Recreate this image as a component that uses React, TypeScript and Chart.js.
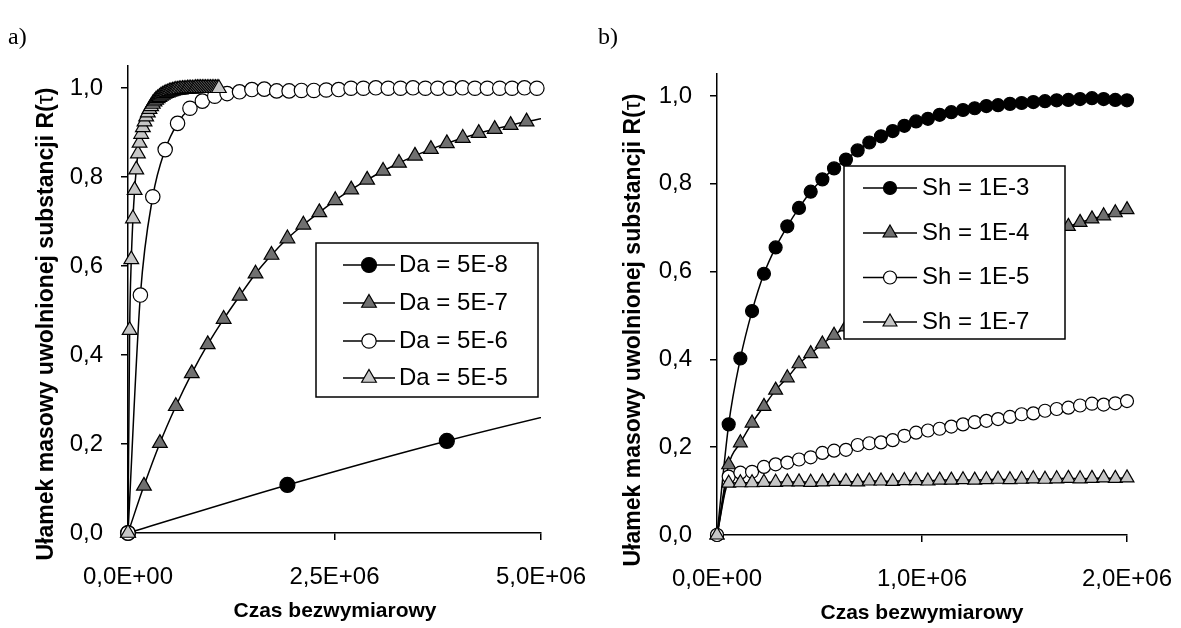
import React, { useEffect, useRef } from 'react';
import { Chart, registerables } from 'chart.js';

Chart.register(...registerables);
Chart.defaults.font.family = '"Liberation Sans", Arial, sans-serif';
Chart.defaults.color = '#000';

const M = 1e6;

// ---------- Panel a) ----------
const daLabels = ['Da = 5E-8', 'Da = 5E-7', 'Da = 5E-6', 'Da = 5E-5'];
// x values in units of 1E+06
const da8X = [0, 1.93, 3.86, 5.79];
const da8Y = [0, 0.108, 0.207, 0.295];
const da7X = [0, 0.193, 0.386, 0.579, 0.772, 0.965, 1.158, 1.351, 1.544, 1.737, 1.93, 2.123, 2.316, 2.509, 2.702, 2.895, 3.088, 3.281, 3.474, 3.667, 3.86, 4.053, 4.246, 4.439, 4.632, 4.825, 5.018];
const da7Y = [0, 0.106, 0.202, 0.285, 0.359, 0.424, 0.481, 0.533, 0.583, 0.625, 0.662, 0.693, 0.721, 0.748, 0.772, 0.794, 0.814, 0.832, 0.848, 0.863, 0.876, 0.888, 0.899, 0.908, 0.917, 0.925, 0.932];
const da6X = [0, 0.15, 0.3, 0.45, 0.6, 0.75, 0.9, 1.05, 1.2, 1.35, 1.5, 1.65, 1.8, 1.95, 2.1, 2.25, 2.4, 2.55, 2.7, 2.85, 3.0, 3.15, 3.3, 3.45, 3.6, 3.75, 3.9, 4.05, 4.2, 4.35, 4.5, 4.65, 4.8, 4.95];
const da6Y = [0, 0.535, 0.756, 0.862, 0.921, 0.955, 0.971, 0.982, 0.988, 0.992, 0.997, 0.998, 0.994, 0.994, 0.995, 0.995, 0.996, 0.997, 1.0, 1.0, 1.001, 1.0, 1.0, 1.001, 1.0, 1.0, 1.0, 1.001, 1.0, 1.0, 1.0, 1.0, 1.001, 1.0];
const da5X = [0, 0.02, 0.04, 0.06, 0.08, 0.1, 0.12, 0.14, 0.16, 0.18, 0.2, 0.22, 0.24, 0.26, 0.28, 0.3, 0.32, 0.34, 0.36, 0.38, 0.4, 0.42, 0.44, 0.46, 0.48, 0.5, 0.52, 0.54, 0.56, 0.58, 0.6, 0.62, 0.64, 0.66, 0.68, 0.7, 0.72, 0.74, 0.76, 0.78, 0.8, 0.82, 0.84, 0.86, 0.88, 0.9, 0.92, 0.94, 0.96, 0.98, 1.0, 1.02, 1.04, 1.06, 1.08, 1.1];
const da5Y = [0, 0.456, 0.615, 0.707, 0.771, 0.817, 0.853, 0.877, 0.897, 0.912, 0.925, 0.936, 0.945, 0.953, 0.959, 0.965, 0.97, 0.974, 0.977, 0.98, 0.983, 0.985, 0.987, 0.989, 0.99, 0.992, 0.993, 0.994, 0.995, 0.996, 0.996, 0.997, 0.997, 0.998, 0.998, 0.998, 0.999, 0.999, 0.999, 0.999, 0.999, 1, 1, 1, 1, 1, 1, 1, 1, 1, 1, 1, 1, 1, 1, 1];
const aXTicks = [0, 2.5, 5.0];
const aXTickLabels = ['0,0E+00', '2,5E+06', '5,0E+06'];

// ---------- Panel b) ----------
const shLabels = ['Sh = 1E-3', 'Sh = 1E-4', 'Sh = 1E-5', 'Sh = 1E-7'];
const shX = [0, 0.057, 0.114, 0.171, 0.229, 0.286, 0.343, 0.4, 0.457, 0.514, 0.571, 0.629, 0.686, 0.743, 0.8, 0.857, 0.914, 0.971, 1.029, 1.086, 1.143, 1.2, 1.257, 1.314, 1.371, 1.429, 1.486, 1.543, 1.6, 1.657, 1.714, 1.771, 1.829, 1.886, 1.943, 2.0];
const sh3Y = [0, 0.252, 0.402, 0.51, 0.595, 0.655, 0.703, 0.745, 0.782, 0.81, 0.835, 0.855, 0.876, 0.894, 0.908, 0.92, 0.932, 0.942, 0.948, 0.957, 0.963, 0.968, 0.972, 0.977, 0.979, 0.982, 0.984, 0.986, 0.988, 0.99, 0.991, 0.993, 0.995, 0.993, 0.991, 0.99];
const sh4Y = [0, 0.16, 0.21, 0.255, 0.293, 0.33, 0.358, 0.39, 0.413, 0.435, 0.455, 0.474, 0.49, 0.507, 0.522, 0.537, 0.551, 0.565, 0.578, 0.591, 0.603, 0.615, 0.626, 0.637, 0.648, 0.658, 0.668, 0.677, 0.686, 0.695, 0.703, 0.712, 0.72, 0.727, 0.734, 0.741];
const sh5Y = [0, 0.133, 0.142, 0.144, 0.155, 0.161, 0.165, 0.172, 0.177, 0.187, 0.192, 0.194, 0.205, 0.209, 0.211, 0.216, 0.226, 0.233, 0.238, 0.242, 0.247, 0.252, 0.257, 0.26, 0.264, 0.269, 0.275, 0.277, 0.283, 0.287, 0.29, 0.295, 0.299, 0.297, 0.3, 0.305];
const sh7Y = [0, 0.118, 0.119, 0.119, 0.12, 0.12, 0.121, 0.121, 0.12, 0.121, 0.122, 0.122, 0.121, 0.123, 0.123, 0.122, 0.124, 0.124, 0.123, 0.125, 0.125, 0.126, 0.125, 0.126, 0.127, 0.126, 0.127, 0.128, 0.127, 0.128, 0.129, 0.128, 0.129, 0.13, 0.129, 0.13];
const bXTicks = [0, 1, 2];
const bXTickLabels = ['0,0E+00', '1,0E+06', '2,0E+06'];

// ---------- shared ----------
const yTicks = [0, 0.2, 0.4, 0.6, 0.8, 1.0];
const yTickLabels = ['0,0', '0,2', '0,4', '0,6', '0,8', '1,0'];
const yTitle = 'Ułamek masowy uwolnionej substancji R(τ)';
const xTitle = 'Czas bezwymiarowy';

type Series = { label: string; xs: number[]; ys: number[]; style: 'circle' | 'triangle'; fill: string; r: number; clipRight: number };
type PanelCfg = {
  left: number; w: number; padTop: number; padRight: number; yW: number; xH: number;
  xMax: number; xTicks: number[]; xTickLabels: string[]; series: Series[];
  legend: { x: number; y: number; w: number; h: number; rows: number[]; l0: number; l1: number; tx: number };
  xTitlePos: [number, number]; yTitlePos: [number, number];
};

const FONT = '"Liberation Sans", Arial, sans-serif';
const Y_TITLE_SIZE = 23;
const X_TITLE_SIZE = 21;

function drawMarker(ctx: CanvasRenderingContext2D, style: string, x: number, y: number, r: number, fill: string) {
  ctx.beginPath();
  if (style === 'circle') {
    ctx.arc(x, y, r, 0, Math.PI * 2);
  } else {
    for (let k = 0; k < 3; k++) {
      const a = (k * 2 * Math.PI) / 3;
      const px = x + Math.sin(a) * r;
      const py = y - Math.cos(a) * r;
      if (k === 0) ctx.moveTo(px, py);
      else ctx.lineTo(px, py);
    }
    ctx.closePath();
  }
  ctx.fillStyle = fill;
  ctx.fill();
  ctx.lineWidth = 1.2;
  ctx.strokeStyle = '#000';
  ctx.stroke();
}

function drawDecor(ctx: CanvasRenderingContext2D, cfg: PanelCfg) {
  const lg = cfg.legend;
  ctx.save();
  ctx.fillStyle = '#fff';
  ctx.fillRect(lg.x, lg.y, lg.w, lg.h);
  ctx.strokeStyle = '#000';
  ctx.lineWidth = 1.5;
  ctx.strokeRect(lg.x, lg.y, lg.w, lg.h);
  cfg.series.forEach((s, i) => {
    const y = lg.rows[i];
    ctx.beginPath();
    ctx.moveTo(lg.l0, y);
    ctx.lineTo(lg.l1, y);
    ctx.strokeStyle = '#000';
    ctx.lineWidth = 1.5;
    ctx.stroke();
    drawMarker(ctx, s.style, (lg.l0 + lg.l1) / 2, y, s.r, s.fill);
    ctx.fillStyle = '#000';
    ctx.font = `24px ${FONT}`;
    ctx.textAlign = 'left';
    ctx.textBaseline = 'middle';
    ctx.fillText(s.label, lg.tx, y);
  });
  // x title
  ctx.fillStyle = '#000';
  ctx.font = `bold ${X_TITLE_SIZE}px ${FONT}`;
  ctx.textAlign = 'center';
  ctx.textBaseline = 'middle';
  ctx.fillText(xTitle, cfg.xTitlePos[0], cfg.xTitlePos[1]);
  // y title (tau not bold)
  const idx = yTitle.indexOf('τ');
  const parts = [
    { t: yTitle.slice(0, idx), f: `bold ${Y_TITLE_SIZE}px ${FONT}` },
    { t: 'τ', f: `${Y_TITLE_SIZE}px ${FONT}` },
    { t: yTitle.slice(idx + 1), f: `bold ${Y_TITLE_SIZE}px ${FONT}` },
  ];
  let total = 0;
  const widths = parts.map((p) => {
    ctx.font = p.f;
    const w = ctx.measureText(p.t).width;
    total += w;
    return w;
  });
  ctx.translate(cfg.yTitlePos[0], cfg.yTitlePos[1]);
  ctx.rotate(-Math.PI / 2);
  ctx.textAlign = 'left';
  let cx = -total / 2;
  parts.forEach((p, i) => {
    ctx.font = p.f;
    ctx.fillText(p.t, cx, 0);
    cx += widths[i];
  });
  ctx.restore();
}

function buildConfig(cfg: PanelCfg): any {
  const n = cfg.series.length;
  const datasets = cfg.series.map((s, i) => ({
    label: s.label,
    data: s.xs.map((x, k) => ({ x: x * M, y: s.ys[k] })),
    borderColor: '#000',
    borderWidth: 1.5,
    cubicInterpolationMode: 'monotone',
    fill: false,
    pointStyle: s.style,
    pointBackgroundColor: s.fill,
    pointBorderColor: '#000',
    pointBorderWidth: 1.2,
    pointRadius: (c: any) => (c.raw && c.raw.x > cfg.xMax * M + 1 ? 0 : s.r),
    order: n - 1 - i,
    clip: { left: 30, top: 30, bottom: 30, right: s.clipRight },
  }));
  const grid = { display: true, drawOnChartArea: false, drawTicks: true, tickLength: 7, color: '#000', lineWidth: 1.5 };
  const border = { display: true, color: '#000', width: 1.5 };
  const decor = { id: 'decor', afterDatasetsDraw(chart: any) { drawDecor(chart.ctx, cfg); } };
  return {
    type: 'line',
    data: { datasets },
    plugins: [decor],
    options: {
      responsive: false,
      animation: false,
      events: [],
      layout: { autoPadding: false, padding: { left: 0, top: cfg.padTop, right: cfg.padRight, bottom: 0 } },
      plugins: { legend: { display: false }, tooltip: { enabled: false } },
      scales: {
        x: {
          type: 'linear',
          min: 0,
          max: cfg.xMax * M,
          afterBuildTicks: (s: any) => { s.ticks = cfg.xTicks.map((v) => ({ value: v * M })); },
          afterFit: (s: any) => { s.height = cfg.xH; s.paddingLeft = 0; s.paddingRight = 0; },
          ticks: { callback: (_v: any, i: number) => cfg.xTickLabels[i], padding: 23, maxRotation: 0, autoSkip: false, color: '#000', font: { size: 24 } },
          grid, border,
        },
        y: {
          type: 'linear',
          min: 0,
          max: 1.05,
          afterBuildTicks: (s: any) => { s.ticks = yTicks.map((v) => ({ value: v })); },
          afterFit: (s: any) => { s.width = cfg.yW; s.paddingTop = 0; s.paddingBottom = 0; },
          ticks: { callback: (_v: any, i: number) => yTickLabels[i], padding: 18, autoSkip: false, color: '#000', font: { size: 24 } },
          grid, border,
        },
      },
    },
  };
}

const panelA: PanelCfg = {
  left: 0, w: 590, padTop: 66, padRight: 49, yW: 128, xH: 95,
  xMax: 5, xTicks: aXTicks, xTickLabels: aXTickLabels,
  series: [
    { label: daLabels[0], xs: da8X, ys: da8Y, style: 'circle', fill: '#000000', r: 7.5, clipRight: 0 },
    { label: daLabels[1], xs: da7X, ys: da7Y, style: 'triangle', fill: '#707070', r: 8.5, clipRight: 0 },
    { label: daLabels[2], xs: da6X, ys: da6Y, style: 'circle', fill: '#ffffff', r: 7.2, clipRight: 20 },
    { label: daLabels[3], xs: da5X, ys: da5Y, style: 'triangle', fill: '#c6c6c6', r: 8.5, clipRight: 20 },
  ],
  legend: { x: 316, y: 243, w: 222, h: 154, rows: [265, 303, 341, 378], l0: 343, l1: 395, tx: 399 },
  xTitlePos: [335, 611], yTitlePos: [47, 324],
};

const panelB: PanelCfg = {
  left: 590, w: 591, padTop: 74, padRight: 54, yW: 127, xH: 93,
  xMax: 2, xTicks: bXTicks, xTickLabels: bXTickLabels,
  series: [
    { label: shLabels[0], xs: shX, ys: sh3Y, style: 'circle', fill: '#000000', r: 6.5, clipRight: 20 },
    { label: shLabels[1], xs: shX, ys: sh4Y, style: 'triangle', fill: '#707070', r: 8, clipRight: 20 },
    { label: shLabels[2], xs: shX, ys: sh5Y, style: 'circle', fill: '#ffffff', r: 6.5, clipRight: 20 },
    { label: shLabels[3], xs: shX, ys: sh7Y, style: 'triangle', fill: '#c6c6c6', r: 8, clipRight: 20 },
  ],
  legend: { x: 254, y: 166, w: 221, h: 173, rows: [188, 233, 277.5, 322], l0: 273, l1: 327, tx: 332 },
  xTitlePos: [332, 613], yTitlePos: [44, 330],
};

function Panel({ cfg }: { cfg: PanelCfg }) {
  const ref = useRef<HTMLCanvasElement>(null);
  useEffect(() => {
    const chart = new Chart(ref.current as HTMLCanvasElement, buildConfig(cfg));
    return () => chart.destroy();
  }, []);
  return (
    <canvas
      ref={ref}
      width={cfg.w}
      height={628}
      style={{ position: 'absolute', left: cfg.left, top: 0, width: cfg.w, height: 628 }}
    />
  );
}

export default function App() {
  const label: React.CSSProperties = { position: 'absolute', top: 22, fontFamily: '"Liberation Serif", "Times New Roman", serif', fontSize: 24, lineHeight: '28px', color: '#000' };
  return (
    <div style={{ position: 'absolute', left: 0, top: 0, width: 1181, height: 628, background: '#fff', overflow: 'hidden' }}>
      <Panel cfg={panelA} />
      <Panel cfg={panelB} />
      <div style={{ ...label, left: 8 }}>a)</div>
      <div style={{ ...label, left: 598 }}>b)</div>
    </div>
  );
}
